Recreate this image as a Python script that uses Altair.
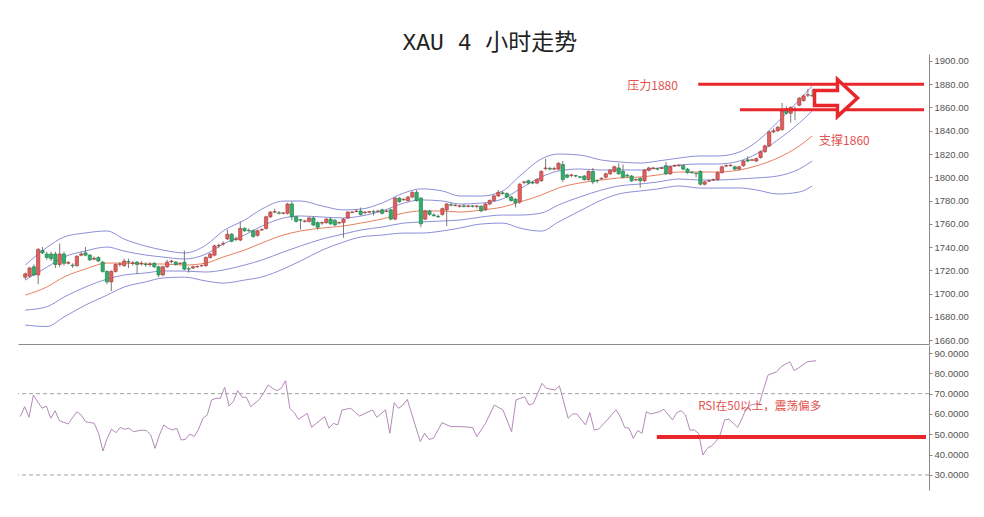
import altair as alt
import pandas as pd

# ---------------- data ----------------
opens = [
    1714, 1715, 1723, 1716, 1737, 1734, 1734, 1734, 1725, 1734,
    1726, 1724.5, 1724, 1733, 1735, 1733, 1729.5, 1731, 1727, 1719,
    1710, 1719, 1725, 1724, 1727.5, 1726, 1727, 1725.7, 1725.3, 1725,
    1726, 1723, 1716, 1723, 1727.5, 1727, 1725.7, 1727, 1721.3, 1722,
    1723, 1723.8, 1724, 1731, 1733, 1741, 1742.6, 1747, 1751, 1746.5,
    1746, 1756, 1754.3, 1754, 1750, 1754.6, 1756, 1766, 1770, 1769.4,
    1769, 1769, 1777, 1766, 1763.5, 1762, 1762, 1765, 1761, 1760.6,
    1761, 1764, 1763, 1760.6, 1761, 1765, 1769.6, 1770.6, 1771, 1769.6,
    1770, 1770.4, 1770.6, 1772, 1770.6, 1772, 1764, 1782, 1780.6, 1780,
    1783, 1787, 1782, 1764, 1771, 1767.6, 1766.4, 1768, 1772, 1776.4,
    1775.6, 1775, 1775.4, 1775, 1775.4, 1775, 1775, 1772, 1777, 1780,
    1784, 1786.6, 1786, 1783, 1781, 1779, 1795.6, 1797, 1795.4, 1795,
    1797, 1807.5, 1807.6, 1807, 1807, 1811, 1802, 1801.6, 1801.4, 1800.4,
    1801, 1798, 1805, 1797.4, 1798.6, 1800, 1803, 1805, 1808, 1805,
    1801.6, 1801, 1797.6, 1799, 1797, 1806, 1807.6, 1807.4, 1807.6, 1810,
    1803, 1809.6, 1810, 1810, 1807, 1804.4, 1803.4, 1805, 1794, 1796.6,
    1797.6, 1798, 1804, 1809.6, 1810, 1809, 1807, 1810, 1815, 1814.6,
    1814, 1817, 1822, 1827, 1839, 1840, 1841, 1859, 1855, 1858.6,
    1862, 1866, 1870.6, 1870.4,
]
highs = [
    1718, 1723, 1725, 1739, 1740, 1736, 1736, 1736, 1743, 1736,
    1728, 1726, 1733, 1736, 1740, 1734, 1732, 1732, 1728, 1720,
    1720, 1726, 1727, 1730, 1730, 1728, 1728, 1728, 1727, 1727,
    1727, 1724, 1724, 1729, 1729, 1728, 1727, 1737, 1723, 1724,
    1724, 1725, 1732, 1735, 1742, 1743, 1745, 1755, 1752, 1749,
    1762, 1757, 1756, 1755, 1755, 1756, 1767, 1771, 1773, 1771,
    1770, 1778, 1779, 1767, 1764, 1763.5, 1766, 1766, 1762, 1762,
    1765, 1765, 1764, 1762, 1765, 1771, 1771, 1772, 1774, 1771,
    1771, 1772, 1772, 1773, 1772, 1773, 1783, 1783, 1782, 1784,
    1788, 1789, 1783, 1772, 1772, 1769, 1768, 1774, 1778, 1778,
    1777, 1776, 1777, 1776, 1776, 1776, 1776, 1778, 1781, 1785,
    1789, 1788, 1787, 1784, 1782, 1795, 1797, 1798, 1797, 1799,
    1806, 1816, 1809, 1809, 1813, 1814, 1803, 1803, 1802, 1801,
    1802, 1806, 1808, 1798, 1800, 1804, 1807, 1810, 1812, 1811,
    1803, 1802, 1799, 1800, 1807, 1809, 1809, 1808, 1809, 1813,
    1810, 1811, 1811, 1811, 1808, 1805, 1804, 1806, 1797, 1798,
    1799, 1805, 1810, 1811, 1811, 1810, 1810, 1815, 1818, 1816,
    1817, 1823, 1828, 1840, 1842, 1844, 1864, 1861, 1861, 1861,
    1869, 1871, 1876, 1876,
]
lows = [
    1712, 1714, 1715, 1708, 1734, 1729, 1728, 1722, 1723, 1724,
    1725, 1722, 1723, 1732, 1732, 1728, 1729, 1727, 1718, 1708,
    1702, 1718, 1723, 1723, 1722, 1724, 1717, 1724, 1723, 1723,
    1722, 1714, 1715, 1722, 1726, 1724, 1725, 1720, 1718, 1721,
    1722, 1723, 1723, 1730, 1732, 1739, 1741, 1746, 1744, 1745,
    1745, 1753, 1753, 1748, 1749, 1754, 1755, 1765, 1769, 1768,
    1768, 1768, 1763, 1761, 1755, 1761, 1761, 1758, 1755, 1759,
    1760, 1759, 1758, 1760, 1748, 1764, 1769, 1770, 1767, 1768,
    1769, 1767, 1770, 1768, 1770, 1763, 1763, 1778, 1780, 1779,
    1782, 1779, 1757, 1763, 1767, 1766, 1765, 1767, 1758, 1775,
    1775, 1774, 1774, 1774, 1774, 1773, 1770, 1771, 1776, 1779,
    1783, 1785, 1782, 1779, 1774, 1777, 1794, 1794, 1794, 1794,
    1796, 1806, 1806, 1806, 1806, 1796, 1799, 1800, 1800, 1799,
    1797, 1797, 1794, 1795, 1798, 1799, 1802, 1804, 1802, 1799,
    1800, 1796, 1797, 1791, 1796, 1805, 1807, 1806, 1807, 1802,
    1802, 1809, 1809, 1806, 1803, 1803, 1800, 1793, 1793, 1796,
    1797, 1797, 1803, 1809, 1809, 1806, 1806, 1809, 1813, 1814,
    1813, 1816, 1821, 1826, 1838, 1839, 1840, 1854, 1847, 1849,
    1861, 1865, 1869, 1869,
]
closes = [
    1717, 1722, 1716, 1738, 1735, 1731, 1730, 1725, 1734, 1726,
    1726.6, 1724, 1732, 1734, 1733, 1729, 1730.3, 1728, 1719, 1710,
    1719, 1725, 1725.5, 1728, 1727, 1726.4, 1725, 1726, 1725, 1725.4,
    1723, 1716, 1723, 1727, 1728, 1725, 1726, 1721, 1721, 1723,
    1723.4, 1724, 1731, 1734, 1741, 1741.4, 1743, 1751, 1745, 1747,
    1756, 1754, 1754, 1749, 1754, 1755, 1766, 1770, 1770.4, 1769,
    1769.4, 1777, 1766, 1762, 1763, 1762.4, 1765, 1759, 1757, 1761,
    1764, 1760, 1759, 1761, 1764, 1770, 1770, 1771, 1768, 1770,
    1770.4, 1770, 1771, 1769, 1771, 1764, 1782, 1779, 1781, 1783,
    1787, 1780, 1760, 1771, 1768, 1767, 1766, 1773, 1777, 1776,
    1776, 1775.4, 1775, 1775.4, 1775, 1775.4, 1771, 1777, 1780, 1784,
    1787, 1786, 1783, 1780, 1778, 1794, 1796, 1795, 1795, 1798,
    1805, 1808, 1807, 1807.4, 1812, 1798, 1800, 1802, 1801, 1800,
    1798, 1805, 1796, 1797, 1799, 1803, 1806, 1809, 1803, 1800,
    1801, 1797, 1798, 1797, 1806, 1808, 1808, 1807, 1808, 1803,
    1809, 1810, 1810.4, 1807, 1804, 1804, 1803, 1794, 1796, 1797,
    1798, 1804, 1809, 1810, 1810.4, 1807, 1809, 1814, 1814, 1815,
    1816, 1822, 1827, 1839, 1840, 1843, 1857, 1855, 1860, 1858,
    1868, 1870, 1871, 1870,
]

# Bollinger band readings: candle index, middle line, band step (1 sigma)
bb_idx = [0, 5, 9, 14, 19, 23, 28, 32, 37, 42, 46, 51, 55, 60, 64, 69, 74, 78, 83, 88,
          92, 97, 101, 106, 111, 115, 120, 124, 129, 134, 138, 143, 147, 152, 157, 161,
          166, 170, 175, 180, 183]
bb_mid = [1698.7, 1705.6, 1714.2, 1721.1, 1726.2, 1726.2, 1725.4, 1725.4, 1724.5, 1726.2,
          1731.4, 1737.4, 1743.4, 1750.3, 1753.8, 1756.3, 1758.1, 1760.6, 1764.1, 1769.2,
          1771.0, 1771.0, 1770.1, 1771.8, 1774.4, 1778.7, 1784.7, 1790.8, 1795.1, 1797.6,
          1799.4, 1800.2, 1801.9, 1804.5, 1804.5, 1804.5, 1806.2, 1809.7, 1816.6, 1826.9,
          1835.5]
bb_sd = [12.9, 17.0, 17.2, 15.5, 13.8, 10.3, 7.7, 6.0, 5.2, 7.7,
         11.2, 12.9, 14.6, 14.6, 12.9, 9.5, 6.9, 6.0, 6.9, 8.6,
         9.5, 8.6, 6.9, 6.0, 6.9, 11.2, 15.5, 14.6, 12.0, 8.6,
         6.9, 6.0, 6.0, 6.0, 6.9, 6.9, 7.7, 10.3, 15.5, 19.8,
         21.5]

# RSI readings: candle index, value
rsi_idx = [0, 1, 2, 3, 5, 6, 7, 8, 9, 11, 13, 14, 15, 17, 18, 19, 20, 21, 22, 23,
           24, 25, 26, 28, 29, 30, 31, 32, 33, 34, 35, 36, 37, 38, 39, 40, 41, 42, 43, 44,
           45, 46, 47, 48, 49, 50, 51, 52, 53, 55, 56, 57, 58, 59, 60, 61, 62, 63, 64, 66,
           67, 70, 71, 72, 73, 74, 76, 78, 81, 82, 84, 85, 86, 87, 88, 89, 92, 93, 94, 95,
           97, 99, 101, 104, 105, 107, 109, 111, 113, 114, 116, 117, 118, 120, 121, 123, 124, 126, 127, 128,
           130, 131, 132, 133, 135, 137, 138, 139, 140, 141, 142, 143, 144, 145, 147, 148, 150, 151, 152, 153,
           154, 155, 156, 157, 158, 159, 160, 161, 162, 163, 165, 166, 167, 168, 170, 171, 172, 174, 175, 177,
           178, 180, 181, 183]
rsi_val = [58.7, 63.6, 58.4, 69.3, 62.8, 63.9, 57.9, 61.6, 56.7, 55.1, 61.1, 59.5, 56.2, 55.4, 50.5, 41.8, 48.0, 52.5, 50.8, 53.4,
           52.5, 53.0, 51.3, 52.1, 51.8, 49.7, 43.1, 49.7, 54.6, 53.0, 52.1, 53.0, 47.2, 47.5, 50.1, 48.9, 52.5, 57.9, 59.5, 66.9,
           67.7, 67.7, 73.1, 63.9, 66.1, 71.5, 68.2, 68.2, 63.6, 67.2, 70.5, 74.3, 72.6, 71.5, 72.6, 76.4, 62.8, 60.6, 57.4, 60.3,
           53.5, 58.7, 53.0, 55.4, 54.6, 62.0, 62.8, 59.0, 62.0, 58.4, 62.0, 50.5, 65.6, 62.8, 64.4, 67.2, 46.4, 50.5, 47.5, 48.0,
           55.7, 53.8, 53.8, 53.4, 48.9, 55.4, 64.4, 62.0, 51.3, 66.9, 68.5, 64.4, 65.2, 75.1, 72.6, 71.8, 73.8, 57.9, 60.0, 60.0,
           54.6, 60.7, 52.1, 52.5, 57.1, 62.0, 58.7, 53.4, 53.0, 48.0, 51.8, 50.5, 61.1, 60.0, 61.1, 62.3, 57.1, 60.7, 61.6, 59.5,
           52.1, 52.1, 50.5, 39.8, 43.1, 44.3, 46.4, 50.1, 57.1, 57.4, 53.4, 57.9, 62.8, 64.4, 65.2, 72.6, 79.2, 80.8, 83.3, 85.7,
           81.3, 84.1, 85.7, 86.2]

price_ticks = [1660, 1680, 1700, 1720, 1740, 1760, 1780, 1800, 1820, 1840, 1860, 1880, 1900]
rsi_ticks = [30, 40, 50, 60, 70, 80, 90]
rsi_guides = [70, 30]

# annotations (candle index / value)
level_from = [156.5, 166.2]
level_to = [209.0, 209.0]
level_price = [1880, 1858]
label_idx = [140.0, 184.6]
label_price = [1878.1, 1831.6]
label_text = ["压力1880", "支撑1860"]
arrow_idx = [188.3]
arrow_price = [1868.2]
rsi_line_from = [146.4]
rsi_line_to = [208.3]
rsi_line_val = [48.7]
rsi_text_idx = [155.9]
rsi_text_val = [63.4]
rsi_text = ["RSI在50以上，震荡偏多"]

# ---------------- tables ----------------
n = len(closes)
candles = pd.DataFrame({"i": list(range(n)), "o": opens, "h": highs, "l": lows, "c": closes})
candles["dir"] = ["up" if c >= o else "down" for o, c in zip(opens, closes)]

rows = []
for k, m, s in zip(bb_idx, bb_mid, bb_sd):
    for name, mult in [("up2", 2), ("up1", 1), ("mid", 0), ("dn1", -1), ("dn2", -2)]:
        rows.append({"i": k, "band": name, "v": m + mult * s})
bands = pd.DataFrame(rows)

rsi = pd.DataFrame({"i": rsi_idx, "v": rsi_val})
levels = pd.DataFrame({"x1": level_from, "x2": level_to, "y": level_price})
labels = pd.DataFrame({"i": label_idx, "y": label_price, "t": label_text})
arrow = pd.DataFrame({"i": arrow_idx, "y": arrow_price})
guides = pd.DataFrame({"y": rsi_guides})
rsi_level = pd.DataFrame({"x1": rsi_line_from, "x2": rsi_line_to, "y": rsi_line_val})
rsi_label = pd.DataFrame({"i": rsi_text_idx, "y": rsi_text_val, "t": rsi_text})

# ---------------- styling ----------------
RED = "#e8262b"
TXT_RED = "#e2534f"
BAND = "#8d8fd8"
MID = "#e8805f"
RSI_COL = "#b48ab8"
CJK = "Noto Sans CJK SC"

W = 911
xs = alt.Scale(domain=[-0.53, 209.0], nice=False, zero=False)
ps = alt.Scale(domain=[1656.6, 1906.0], nice=False, zero=False)
rs = alt.Scale(domain=[22.6, 93.94], nice=False, zero=False)

top_x_axis = alt.Axis(orient="bottom", labels=False, ticks=False, domain=True,
                      domainColor="#8a8a8a", domainWidth=1.2, grid=False, title=None)
price_axis = alt.Axis(orient="right", values=price_ticks, format=".2f", title=None, grid=False)
rsi_axis = alt.Axis(orient="right", values=rsi_ticks, format=".4f", title=None, grid=False)


def tx(f):
    return alt.X(f, type="quantitative", scale=xs, axis=top_x_axis, title=None)


def ty(f):
    return alt.Y(f, type="quantitative", scale=ps, axis=price_axis, title=None)


def bx(f):
    return alt.X(f, type="quantitative", scale=xs, axis=None, title=None)


def by(f):
    return alt.Y(f, type="quantitative", scale=rs, axis=rsi_axis, title=None)


band_lines = alt.Chart(bands).mark_line(strokeWidth=1, interpolate="monotone").encode(
    x=tx("i"), y=ty("v"),
    color=alt.Color("band:N", scale=alt.Scale(domain=["up2", "up1", "mid", "dn1", "dn2"],
                                              range=[BAND, BAND, MID, BAND, BAND]), legend=None),
    detail="band:N",
)
wicks = alt.Chart(candles).mark_rule(strokeWidth=0.8, color="#5a5a5a").encode(
    x=tx("i"), y=ty("l"), y2="h")
bodies = alt.Chart(candles).mark_bar(width=3.3, strokeWidth=0.6).encode(
    x=tx("i"), y=ty("o"), y2="c",
    fill=alt.Fill("dir:N", scale=alt.Scale(domain=["up", "down"], range=["#e0605e", "#2fae6a"]), legend=None),
    stroke=alt.Stroke("dir:N", scale=alt.Scale(domain=["up", "down"], range=["#a83636", "#1f7d4a"]), legend=None),
)
level_rules = alt.Chart(levels).mark_rule(color=RED, strokeWidth=3).encode(
    x=tx("x1"), x2="x2", y=ty("y"))
level_text = alt.Chart(labels).mark_text(align="left", baseline="middle", fontSize=12,
                                         font=CJK, color=TXT_RED).encode(
    x=tx("i"), y=ty("y"), text="t:N")
ARROW = "M -0.91 -0.33 L 0.11 -0.33 L 0.11 -0.82 L 1 0 L 0.11 0.82 L 0.11 0.33 L -0.91 0.33 Z"
arrow_mark = alt.Chart(arrow).mark_point(shape=ARROW, size=2025, filled=True, fill="white",
                                         stroke=RED, strokeWidth=3.5, opacity=1).encode(
    x=tx("i"), y=ty("y"))

top = alt.layer(band_lines, wicks, bodies, level_rules, level_text, arrow_mark).properties(
    width=W, height=290)

guide_rules = alt.Chart(guides).mark_rule(strokeDash=[4, 3], color="#a0a0a0", strokeWidth=1).encode(
    y=by("y"))
rsi_line = alt.Chart(rsi).mark_line(color=RSI_COL, strokeWidth=1).encode(x=bx("i"), y=by("v"))
rsi_rule = alt.Chart(rsi_level).mark_rule(color=RED, strokeWidth=4).encode(
    x=bx("x1"), x2="x2", y=by("y"))
rsi_txt = alt.Chart(rsi_label).mark_text(align="left", baseline="middle", fontSize=11.6,
                                         font=CJK, color=TXT_RED).encode(
    x=bx("i"), y=by("y"), text="t:N")

bottom = alt.layer(guide_rules, rsi_line, rsi_rule, rsi_txt).properties(width=W, height=145)

chart = alt.vconcat(top, bottom, spacing=0).properties(
    title=alt.TitleParams(text="XAU 4 小时走势", fontSize=23, font="Liberation Mono, " + CJK,
                          fontWeight="normal", color="#222222", anchor="middle", dx=-3, offset=-1),
    padding={"left": 9, "top": 24, "right": 5, "bottom": 5},
).configure_view(stroke=None).configure_axis(
    labelFont="Liberation Sans", labelFontSize=9.5, labelColor="#555555",
    tickColor="#8a8a8a", domainColor="#8a8a8a", tickSize=3, labelPadding=2, grid=False,
)

chart.save("out.html", embed_options={"renderer": "svg", "actions": False})
